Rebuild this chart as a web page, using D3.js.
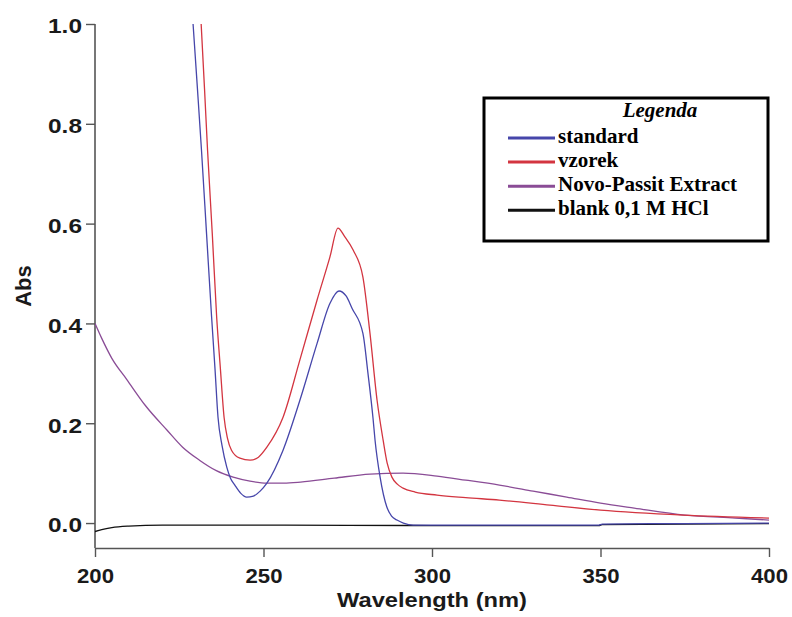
<!DOCTYPE html>
<html>
<head>
<meta charset="utf-8">
<script src="https://cdn.jsdelivr.net/npm/d3@7"></script>
<style>
  body { margin: 0; background: #fff; }
  svg { display: block; }
</style>
</head>
<body>
<div id="chart"></div>
<script>
// spectra: [wavelength nm, absorbance]
const standard = [
  [228.5, 1.06], [229.1, 1.0], [230.4, 0.87], [231.6, 0.747], [233.1, 0.58], [234.6, 0.413],
  [235.6, 0.31], [236.5, 0.212], [237.7, 0.155], [239.1, 0.112], [240.2, 0.09], [241.5, 0.076],
  [243.2, 0.06], [245, 0.052], [247, 0.054], [249, 0.064], [251, 0.08], [255.8, 0.146],
  [260.8, 0.246], [265.9, 0.36], [269.7, 0.44], [272.4, 0.465], [274.5, 0.455], [276.3, 0.43],
  [279.5, 0.38], [281, 0.3], [282.5, 0.21], [283.1, 0.166], [284.6, 0.092], [286.6, 0.032],
  [288, 0.014], [289.6, 0.006], [291.5, 0.0], [294.4, -0.004], [325, -0.004], [349.5, -0.004],
  [350.5, -0.002], [375, -0.001], [400, 0.0]
];
const vzorek = [
  [231.0, 1.06], [231.5, 1.0], [232.5, 0.87], [233.4, 0.747], [234.8, 0.58], [236.1, 0.413],
  [237.2, 0.31], [238.3, 0.212], [239.3, 0.17], [240.5, 0.146], [243, 0.13], [246, 0.126],
  [248.5, 0.132], [251, 0.152], [255.8, 0.212], [260.8, 0.327], [265.9, 0.447], [269.7, 0.533],
  [272.1, 0.591], [274, 0.575], [276.6, 0.547], [279.5, 0.493], [281.6, 0.38], [283.7, 0.246],
  [285.5, 0.166], [286.7, 0.12], [288.1, 0.092], [289.7, 0.078], [291.4, 0.07], [295, 0.062],
  [301.5, 0.056], [310, 0.051], [320, 0.046], [335, 0.036], [350, 0.026], [374.5, 0.016], [400, 0.01]
];
const novoPassit = [
  [200, 0.40], [202, 0.37], [205, 0.33], [209.5, 0.287], [215, 0.235], [221.4, 0.186],
  [226, 0.152], [231, 0.126], [236, 0.105], [241, 0.092], [246, 0.084], [251, 0.08],
  [256, 0.08], [261, 0.082], [271, 0.09], [281.6, 0.098], [291.4, 0.10], [301.5, 0.094],
  [310, 0.086], [320, 0.076], [330, 0.064], [340, 0.052], [350, 0.04], [360, 0.03],
  [375, 0.016], [390, 0.01], [400, 0.006]
];
const blank = [
  [200, -0.017], [202, -0.013], [205, -0.009], [210, -0.006], [220, -0.004], [250, -0.004],
  [300, -0.005], [349.5, -0.005], [350.5, -0.003], [400, -0.001]
];

const seriesNames = ["standard", "vzorek", "Novo-Passit Extract", "blank 0,1 M HCl"];
const seriesColors = ["#4646aa", "#d33540", "#8a4c96", "#111111"];
const seriesData = [standard, vzorek, novoPassit, blank];
// draw order: blank underneath, then the rest
const drawOrder = [3, 2, 1, 0];

const xTicks = [200, 250, 300, 350, 400];
const yTicks = [0.0, 0.2, 0.4, 0.6, 0.8, 1.0];

const width = 792, height = 617;
const svg = d3.select("#chart").append("svg").attr("width", width).attr("height", height);

const x = d3.scaleLinear().domain([200, 400]).range([95, 769]);
const y = d3.scaleLinear().domain([-0.05, 1.0]).range([548, 24]);

svg.append("clipPath").attr("id", "plot")
  .append("rect").attr("x", 95).attr("y", 24).attr("width", 674).attr("height", 524);

const sans = "'Liberation Sans', Arial, sans-serif";
const serif = "'Liberation Serif', 'Times New Roman', serif";

// axes
const xAxis = svg.append("g").attr("transform", "translate(0,548)")
  .call(d3.axisBottom(x).tickValues(xTicks).tickFormat(d3.format("d")).tickSizeInner(9).tickSizeOuter(0).tickPadding(11));
const yAxis = svg.append("g").attr("transform", "translate(95,0)")
  .call(d3.axisLeft(y).tickValues(yTicks).tickFormat(d3.format(".1f")).tickSizeInner(9).tickSizeOuter(0).tickPadding(4));

[xAxis, yAxis].forEach(a => {
  a.select(".domain").attr("stroke", "#555").attr("stroke-width", 1.6);
  a.selectAll(".tick line").attr("stroke", "#555").attr("stroke-width", 1.4);
  a.selectAll(".tick text").attr("fill", "#1a1a1a")
    .style("font-family", sans).style("font-size", "21px").style("font-weight", "bold")
    .attr("lengthAdjust", "spacingAndGlyphs");
});
xAxis.selectAll(".tick text").attr("textLength", 37);
yAxis.selectAll(".tick text").attr("textLength", 34).attr("dy", "0.42em");
// y domain line reaches the x axis
yAxis.select(".domain").attr("d", "M0," + y(1.0) + "V" + y(-0.05));

svg.append("text")
  .attr("x", 432).attr("y", 607).attr("text-anchor", "middle")
  .style("font-family", sans).style("font-size", "21px").style("font-weight", "bold").attr("fill", "#1a1a1a")
  .attr("textLength", 190).attr("lengthAdjust", "spacingAndGlyphs")
  .text("Wavelength (nm)");

svg.append("text")
  .attr("transform", "translate(31,286) rotate(-90)").attr("text-anchor", "middle")
  .style("font-family", sans).style("font-size", "22px").style("font-weight", "bold").attr("fill", "#1a1a1a")
  .text("Abs");

// curves
const line = d3.line().x(d => x(d[0])).y(d => y(d[1])).curve(d3.curveMonotoneX);
const plot = svg.append("g").attr("clip-path", "url(#plot)");
drawOrder.forEach(i => {
  plot.append("path").datum(seriesData[i])
    .attr("d", line).attr("fill", "none")
    .attr("stroke", seriesColors[i]).attr("stroke-width", 1.3);
});

// legend
const lg = svg.append("g");
lg.append("rect").attr("x", 484).attr("y", 98).attr("width", 284).attr("height", 143)
  .attr("fill", "#fff").attr("stroke", "#000").attr("stroke-width", 3);
lg.append("text").attr("x", 660).attr("y", 117).attr("text-anchor", "middle")
  .style("font-family", serif)
  .style("font-size", "21px").style("font-weight", "bold").style("font-style", "italic")
  .text("Legenda");
seriesNames.forEach((name, i) => {
  const base = 143 + i * 24.1;
  lg.append("line").attr("x1", 508).attr("x2", 555).attr("y1", base - 5).attr("y2", base - 5)
    .attr("stroke", seriesColors[i]).attr("stroke-width", 3);
  lg.append("text").attr("x", 558).attr("y", base)
    .style("font-family", serif)
    .style("font-size", "21px").style("font-weight", "bold")
    .text(name);
});
</script>
</body>
</html>
